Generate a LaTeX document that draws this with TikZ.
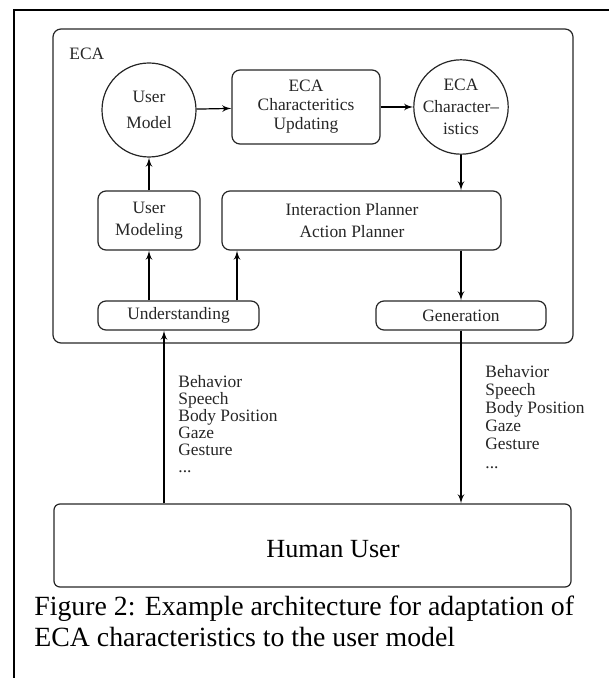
\documentclass[tikz,border=0pt]{standalone}
\usepackage{fontspec}
\setmainfont{Liberation Serif}
\usetikzlibrary{arrows,positioning,calc}

\begin{document}
\begin{tikzpicture}[
        x=0.5pt, y=-0.5pt,
        box/.style={draw=black!85, line width=0.6pt, rounded corners=4pt, inner sep=0pt},
        circ/.style={draw=black!85, line width=0.6pt, circle, minimum size=47pt, inner sep=0pt},
        txt/.style={font=\fontsize{8.7}{11}\selectfont, align=center, text=black!85},
        lst/.style={font=\fontsize{8.7}{8.5}\selectfont, align=left, anchor=base west,
            inner sep=0pt, text=black!85},
        arr/.style={line width=0.6pt, ->, >=latex'},
    ]
    \useasboundingbox (0,0) rectangle (609,678);
    % page frame
    \draw[line width=1pt] (14,678) -- (14,10) -- (609,10);
    % ECA
    \node[box, minimum width=260pt, minimum height=157pt] (eca) at (313,186) {};
    \node[txt, anchor=west, inner sep=0pt] (ecalbl) at (69,54) {ECA};
    \node[circ, txt, font=\fontsize{8.7}{13}\selectfont] (umodel) at (149,110) {User\\Model};
    \node[box, txt, minimum width=74pt, minimum height=37pt, font=\fontsize{8.7}{9.5}\selectfont]
        (updt) at (306,107) {ECA\\Characteritics\\Updating};
    \node[circ, txt] (echar) at (461,107) {ECA\\Character--\\istics};
    \node[box, txt, minimum width=51pt, minimum height=29.5pt] (umodeling) at (149,220.5)
        {User\\Modeling};
    \node[box, minimum width=139.5pt, minimum height=29.5pt] (iplan) at (361.5,220.5) {};
    \node[txt] (iplantxt) at (352,220.5) {Interaction Planner\\Action Planner};
    \node[box, txt, minimum width=80.5pt, minimum height=14.5pt] (und) at (178.5,315.5)
        {Understanding};
    \node[box, txt, minimum width=85pt, minimum height=14.5pt] (gen) at (461,315.5)
        {Generation};
    % human
    \node[box, rounded corners=3pt, minimum width=258.5pt, minimum height=41.5pt]
        (human) at (312.5,545.5) {};
    \node[font=\fontsize{13.1}{15}\selectfont] (humantxt) at (333,549) {Human User};
    % connectors
    \coordinate (ipin) at (237,0);
    \coordinate (hin) at (164,0);
    \draw[arr] (umodel) -- (updt);
    \draw[arr] (updt) -- (echar);
    \draw[arr] (umodeling) -- (umodel);
    \draw[arr] (echar) -- (echar |- iplan.north);
    \draw[arr] (iplan.south -| gen.north) -- (gen.north);
    \draw[arr] (und.north -| umodeling.south) -- (umodeling.south);
    \draw[arr] (und.north -| ipin) -- (iplan.south -| ipin);
    \draw[arr] (gen.south) -- (gen.south |- human.north);
    \draw[arr] (human.north -| hin) -- (und.south -| hin);
    % signals (base anchor sits on the last line)
    \node[lst] (sigin) at (178,472)
        {Behavior\\Speech\\Body Position\\Gaze\\Gesture\\...};
    \node[lst, font=\fontsize{8.7}{9.1}\selectfont] (sigout) at (485,468)
        {Behavior\\Speech\\Body Position\\Gaze\\Gesture\\...};
    % caption
    \node[font=\fontsize{13.9}{15.5}\selectfont, align=left, anchor=base west, inner sep=0pt]
        (caption) at (34,646)
        {Figure 2: Example architecture for adaptation of\\ECA characteristics to the user model};
\end{tikzpicture}
\end{document}
